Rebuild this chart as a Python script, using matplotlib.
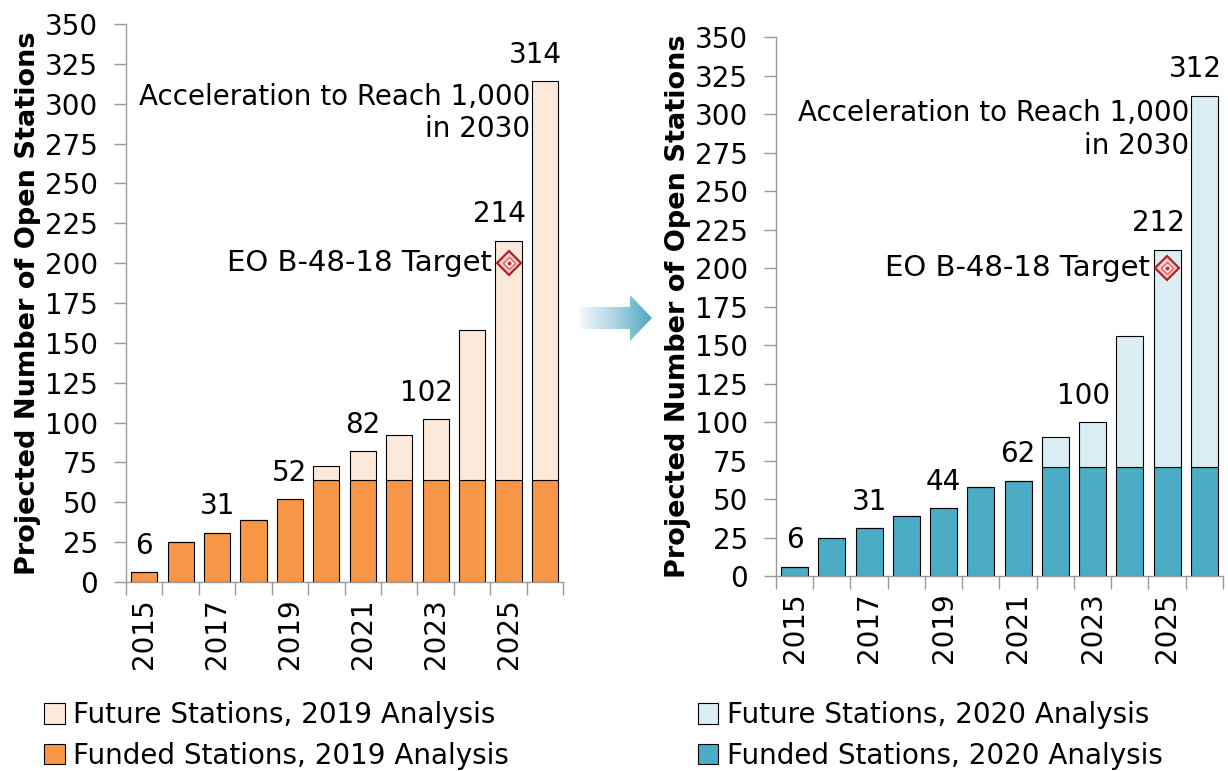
import numpy as np
import matplotlib
matplotlib.use("Agg")
import matplotlib.pyplot as plt
from matplotlib.patches import Polygon
from matplotlib.colors import LinearSegmentedColormap

plt.rcParams['font.family'] = ['DejaVu Sans']

years = list(range(2015, 2027))
tick_years = [2015, 2017, 2019, 2021, 2023, 2025]

total_2019 = [6, 25, 31, 39, 52, 73, 82, 92, 102, 158, 214, 314]
funded_2019 = [6, 25, 31, 39, 52, 64, 64, 64, 64, 64, 64, 64]
labels_2019 = {2015: 6, 2017: 31, 2019: 52, 2021: 82, 2023: 102, 2025: 214, 2026: 314}

total_2020 = [6, 25, 31, 39, 44, 58, 62, 90, 100, 156, 212, 312]
funded_2020 = [6, 25, 31, 39, 44, 58, 62, 71, 71, 71, 71, 71]
labels_2020 = {2015: 6, 2017: 31, 2019: 44, 2021: 62, 2023: 100, 2025: 212, 2026: 312}

target_year = 2025
target_value = 200

fig = plt.figure(figsize=(12.28, 7.71), dpi=100)

FS = 20
GRAY = '#9a9a9a'
BW = 0.72


def panel(rect, totals, funded, labels, c_fund, c_fut, lab_fut, lab_fund, leg_x, text_y):
    ax = fig.add_axes(rect)
    x = np.arange(len(years))
    fut = [t - f for t, f in zip(totals, funded)]
    b1 = ax.bar(x, funded, width=BW, color=c_fund, edgecolor='black', linewidth=0.8, zorder=2)
    b2 = ax.bar(x, fut, bottom=funded, width=BW, color=c_fut, edgecolor='black', linewidth=0.8, zorder=2)
    ax.set_xlim(-0.5, len(years) - 0.5)
    ax.set_ylim(0, 350)
    ax.set_yticks(np.arange(0, 351, 25))
    ax.tick_params(axis='y', labelsize=FS, length=9, color=GRAY, width=1, pad=11)
    ax.set_xticks(np.arange(-0.5, len(years), 1.0))
    ax.set_xticklabels([])
    ax.tick_params(axis='x', which='major', length=9, direction='out', color=GRAY, width=1)
    ax.set_xticks([years.index(y) for y in tick_years], minor=True)
    ax.set_xticklabels([str(y) for y in tick_years], minor=True, rotation=90, fontsize=FS)
    ax.tick_params(axis='x', which='minor', length=0, pad=12)
    for s in ['top', 'right']:
        ax.spines[s].set_visible(False)
    for s in ['left', 'bottom']:
        ax.spines[s].set_color(GRAY)
        ax.spines[s].set_linewidth(1)
    ax.set_ylabel('Projected Number of Open Stations', fontsize=FS - 0.5, fontweight='bold', labelpad=3)
    for yr, v in labels.items():
        i = years.index(yr)
        s = str(v)
        if len(s) >= 3:
            ax.annotate(s, (i + BW / 2, totals[i]), xytext=(3, 9), textcoords='offset points',
                        ha='right', va='bottom', fontsize=FS)
        else:
            ax.annotate(s, (i, totals[i]), xytext=(0, 9), textcoords='offset points',
                        ha='center', va='bottom', fontsize=FS)
    ti = years.index(target_year)
    ax.plot([ti], [target_value], marker='D', ms=12.5, mfc='#f6c9c9', mec='#a8262b', mew=1.6, zorder=4)
    ax.plot([ti], [target_value], marker='D', ms=6.5, mfc='white', mec='#e05a5a', mew=1.0, zorder=5)
    ax.plot([ti], [target_value], marker='o', ms=3, mfc='#d03030', mec='none', zorder=6)
    ax.annotate('EO B-48-18 Target', (ti, target_value), xytext=(-12, 0), textcoords='offset points',
                ha='right', va='center', fontsize=FS + 1, zorder=5)
    ax.text(10.6, text_y, 'Acceleration to Reach 1,000\nin 2030', ha='right', va='center',
            multialignment='right', fontsize=FS, linespacing=1.2, zorder=5)
    fig.legend([b2, b1], [lab_fut, lab_fund], loc='upper left', bbox_to_anchor=(leg_x, 0.0905),
               bbox_transform=fig.transFigure, frameon=False, fontsize=FS,
               handlelength=0.75, handleheight=0.75, handletextpad=0.3, labelspacing=0.45,
               borderaxespad=0, borderpad=0)
    return ax


panel([0.1026, 0.2451, 0.356, 0.7238], total_2019, funded_2019, labels_2019,
      '#f79646', '#fde9d9', 'Future Stations, 2019 Analysis', 'Funded Stations, 2019 Analysis',
      0.036, 294)
panel([0.6319, 0.2529, 0.364, 0.699], total_2020, funded_2020, labels_2020,
      '#4bacc6', '#dbeef4', 'Future Stations, 2020 Analysis', 'Funded Stations, 2020 Analysis',
      0.568, 290)

# gradient arrow between panels
aax = fig.add_axes([0, 0, 1, 1], zorder=-1)
aax.set_xlim(0, 1228)
aax.set_ylim(771, 0)
aax.axis('off')
cmap = LinearSegmentedColormap.from_list('g', ['#f2f8fb', '#a9d3e3', '#4aa6c2'])
grad = np.linspace(0, 1, 256).reshape(1, -1)
im = aax.imshow(grad, cmap=cmap, extent=[580, 652, 342, 294], aspect='auto', zorder=1)
poly = Polygon([(580, 307), (630, 307), (630, 295), (652, 318), (630, 341), (630, 329), (580, 329)],
               closed=True, transform=aax.transData, facecolor='none', edgecolor='none')
aax.add_patch(poly)
im.set_clip_path(poly)

fig.savefig('out.png', dpi=100)
